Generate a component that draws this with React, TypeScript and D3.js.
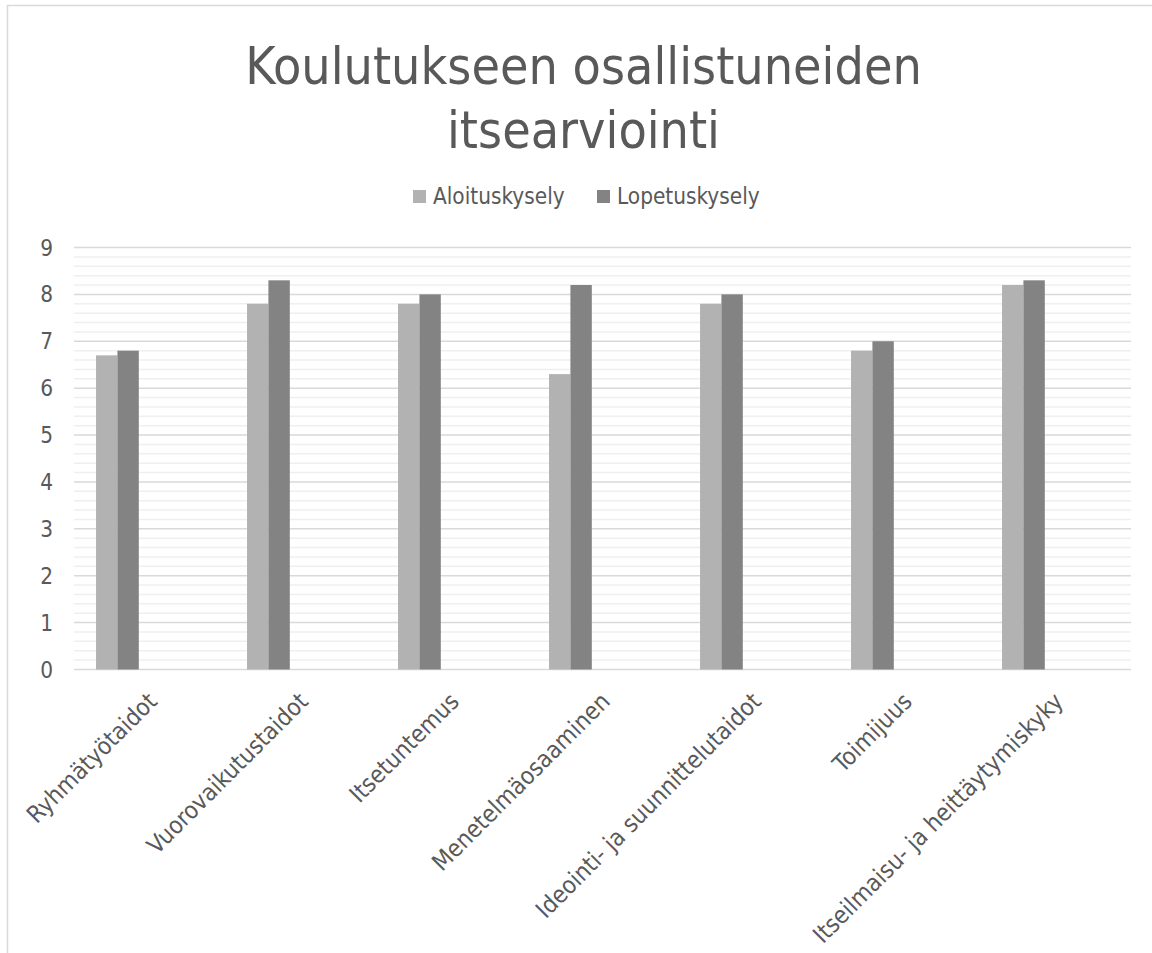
import React from "react";
import * as d3 from "d3";

const categories = [
  "Ryhmätyötaidot",
  "Vuorovaikutustaidot",
  "Itsetuntemus",
  "Menetelmäosaaminen",
  "Ideointi- ja suunnittelutaidot",
  "Toimijuus",
  "Itseilmaisu- ja heittäytymiskyky",
];
const seriesNames = ["Aloituskysely", "Lopetuskysely"];
const aloitus = [6.7, 7.8, 7.8, 6.3, 7.8, 6.8, 8.2];
const lopetus = [6.8, 8.3, 8.0, 8.2, 8.0, 7.0, 8.3];
const yTicks = [0, 1, 2, 3, 4, 5, 6, 7, 8, 9];
const titleLines = ["Koulutukseen osallistuneiden", "itsearviointi"];

const seriesValues = [aloitus, lopetus];
const colors = ["#b2b2b2", "#838383"];
const FONT = "'DejaVu Sans Condensed', 'DejaVu Sans', sans-serif";
const TEXT = "#595959";

const W = 1152;
const H = 953;
const plot = { left: 74, right: 1131, top: 247.5, bottom: 669.5 };

export default function App() {
  const x = d3.scaleBand<string>().domain(categories).range([plot.left, plot.right]).paddingInner(0).paddingOuter(0);
  const y = d3.scaleLinear().domain([0, 9]).range([plot.bottom, plot.top]);
  const slots = 5;
  const gapRatio = 2.06;
  const w = x.bandwidth() / (slots + gapRatio);
  const off = (w * gapRatio) / 2;
  const xs = d3.scaleBand<string>().domain(seriesNames).range([off, off + 2 * w]).padding(0);
  const minorTicks = d3.range(0, 9.0001, 0.2).filter((v) => Math.abs(v - Math.round(v)) > 1e-6);

  return (
    <svg width={W} height={H} style={{ position: "absolute", left: 0, top: 0, background: "#fff" }} fontFamily={FONT} fontStretch="condensed">
      <rect x={7.5} y={5.5} width={1160} height={960} fill="#fff" stroke="#d9d9d9" strokeWidth={1.5} />
      {titleLines.map((t, i) => (
        <text key={t} x={583.5} y={84 + i * 64} textAnchor="middle" fontSize={51.5} fill={TEXT}>
          {t}
        </text>
      ))}
      {seriesNames.map((s, i) => (
        <g key={s} transform={`translate(${413 + i * 184},0)`}>
          <rect x={0} y={190} width={13} height={13} fill={colors[i]} />
          <text x={20} y={204} fontSize={22.4} fill={TEXT}>
            {s}
          </text>
        </g>
      ))}
      {minorTicks.map((v) => (
        <line key={"m" + v} x1={plot.left} x2={plot.right} y1={y(v)} y2={y(v)} stroke="#efefef" strokeWidth={1.5} />
      ))}
      {yTicks.map((v) => (
        <g key={"t" + v}>
          <line x1={plot.left} x2={plot.right} y1={y(v)} y2={y(v)} stroke="#d9d9d9" strokeWidth={1.5} />
          <text x={53} y={y(v)} dy="0.36em" textAnchor="end" fontSize={22.4} fill={TEXT}>
            {v}
          </text>
        </g>
      ))}
      {categories.map((c, ci) => (
        <g key={c}>
          {seriesNames.map((s, si) => (
            <rect
              key={s}
              x={(x(c) as number) + (xs(s) as number)}
              y={y(seriesValues[si][ci])}
              width={xs.bandwidth()}
              height={y(0) - y(seriesValues[si][ci])}
              fill={colors[si]}
            />
          ))}
        </g>
      ))}
      {categories.map((c) => (
        <text
          key={"l" + c}
          transform={`translate(${(x(c) as number) + x.bandwidth() / 2 + 3},${697}) rotate(-45)`}
          textAnchor="end"
          dy="0.35em"
          fontSize={24}
          fill={TEXT}
        >
          {c}
        </text>
      ))}
    </svg>
  );
}
